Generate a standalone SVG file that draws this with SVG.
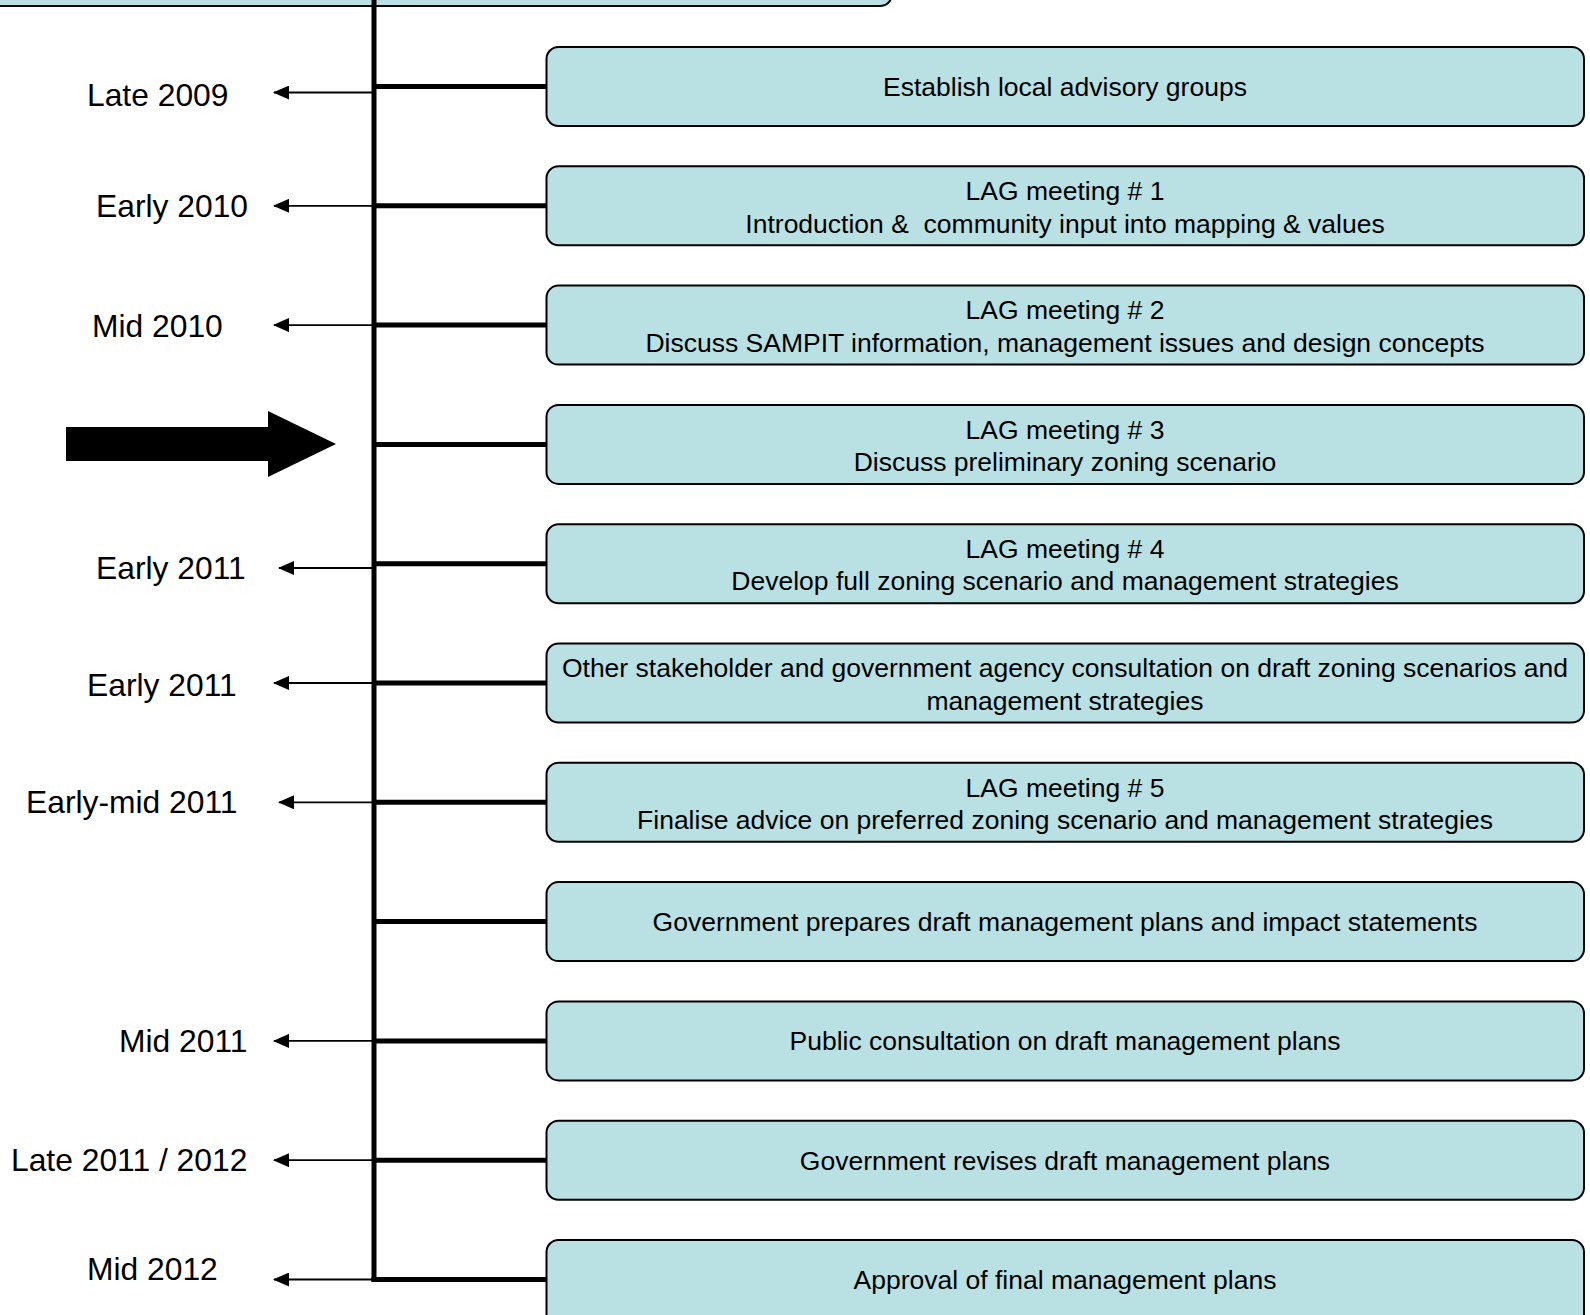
<svg xmlns="http://www.w3.org/2000/svg" width="1590" height="1315" viewBox="0 0 1590 1315">
<defs>
<style>
.box{fill:#b9e0e3;stroke:#000;stroke-width:2}
.bt{font-family:"Liberation Sans",Arial,sans-serif;font-size:26.5px;fill:#000;text-anchor:middle}
.lb{font-family:"Liberation Sans",Arial,sans-serif;font-size:31.8px;fill:#000}
.thick{stroke:#000;stroke-width:5;fill:none}
.thin{stroke:#000;stroke-width:1.8;fill:none;marker-end:url(#ah)}
</style>
<marker id="ah" markerWidth="16" markerHeight="14" refX="15" refY="7" orient="auto" markerUnits="userSpaceOnUse">
<path d="M0,0 L16,7 L0,14 Z" fill="#000"/>
</marker>
</defs>
<rect width="1590" height="1315" fill="#fff"/>
<g id="top-box"><rect class="box" x="-20" y="-80" width="912" height="86" rx="12"/></g>
<g id="connectors">
<line class="thick" x1="374" y1="0" x2="374" y2="1282"/>
<line class="thick" x1="372" y1="86.5" x2="547" y2="86.5"/>
<line class="thick" x1="372" y1="205.8" x2="547" y2="205.8"/>
<line class="thick" x1="372" y1="325.1" x2="547" y2="325.1"/>
<line class="thick" x1="372" y1="444.4" x2="547" y2="444.4"/>
<line class="thick" x1="372" y1="563.7" x2="547" y2="563.7"/>
<line class="thick" x1="372" y1="683" x2="547" y2="683"/>
<line class="thick" x1="372" y1="802.3" x2="547" y2="802.3"/>
<line class="thick" x1="372" y1="921.6" x2="547" y2="921.6"/>
<line class="thick" x1="372" y1="1040.9" x2="547" y2="1040.9"/>
<line class="thick" x1="372" y1="1160.2" x2="547" y2="1160.2"/>
<line class="thick" x1="371.5" y1="1279.5" x2="547" y2="1279.5"/>
<line class="thin" x1="372" y1="92.5" x2="274" y2="92.5"/>
<line class="thin" x1="372" y1="205.8" x2="274" y2="205.8"/>
<line class="thin" x1="372" y1="325.1" x2="274" y2="325.1"/>
<line class="thin" x1="372" y1="568" x2="279" y2="568"/>
<line class="thin" x1="372" y1="683" x2="274" y2="683"/>
<line class="thin" x1="372" y1="802.3" x2="279" y2="802.3"/>
<line class="thin" x1="372" y1="1040.9" x2="274" y2="1040.9"/>
<line class="thin" x1="372" y1="1160.2" x2="274" y2="1160.2"/>
<line class="thin" x1="372" y1="1279.5" x2="274" y2="1279.5"/>
</g>
<g id="current-arrow"><path d="M66,427 L268,427 L268,411 L336,444 L268,477 L268,461 L66,461 Z" fill="#000"/></g>
<g id="labels">
<text class="lb" x="87" y="105.5">Late 2009</text>
<text class="lb" x="96" y="217">Early 2010</text>
<text class="lb" x="92" y="337">Mid 2010</text>
<text class="lb" x="96" y="579">Early 2011</text>
<text class="lb" x="87" y="696">Early 2011</text>
<text class="lb" x="26" y="813">Early-mid 2011</text>
<text class="lb" x="119" y="1052">Mid 2011</text>
<text class="lb" x="11" y="1171">Late 2011 / 2012</text>
<text class="lb" x="87" y="1280">Mid 2012</text>
</g>
<g id="n1"><rect class="box" x="546.5" y="47" width="1037.5" height="79" rx="12"/><text class="bt" x="1065" y="96">Establish local advisory groups</text></g>
<g id="n2"><rect class="box" x="546.5" y="166.3" width="1037.5" height="79" rx="12"/><text class="bt" x="1065" y="200">LAG meeting # 1</text><text class="bt" x="1065" y="232.5">Introduction &amp;&#160; community input into mapping &amp; values</text></g>
<g id="n3"><rect class="box" x="546.5" y="285.6" width="1037.5" height="79" rx="12"/><text class="bt" x="1065" y="319.3">LAG meeting # 2</text><text class="bt" x="1065" y="351.8">Discuss SAMPIT information, management issues and design concepts</text></g>
<g id="n4"><rect class="box" x="546.5" y="404.9" width="1037.5" height="79" rx="12"/><text class="bt" x="1065" y="438.6">LAG meeting # 3</text><text class="bt" x="1065" y="471.1">Discuss preliminary zoning scenario</text></g>
<g id="n5"><rect class="box" x="546.5" y="524.2" width="1037.5" height="79" rx="12"/><text class="bt" x="1065" y="557.9">LAG meeting # 4</text><text class="bt" x="1065" y="590.4">Develop full zoning scenario and management strategies</text></g>
<g id="n6"><rect class="box" x="546.5" y="643.5" width="1037.5" height="79" rx="12"/><text class="bt" x="1065" y="677.2">Other stakeholder and government agency consultation on draft zoning scenarios and</text><text class="bt" x="1065" y="709.7">management strategies</text></g>
<g id="n7"><rect class="box" x="546.5" y="762.8" width="1037.5" height="79" rx="12"/><text class="bt" x="1065" y="796.5">LAG meeting # 5</text><text class="bt" x="1065" y="829">Finalise advice on preferred zoning scenario and management strategies</text></g>
<g id="n8"><rect class="box" x="546.5" y="882.1" width="1037.5" height="79" rx="12"/><text class="bt" x="1065" y="931">Government prepares draft management plans and impact statements</text></g>
<g id="n9"><rect class="box" x="546.5" y="1001.4" width="1037.5" height="79" rx="12"/><text class="bt" x="1065" y="1050.3">Public consultation on draft management plans</text></g>
<g id="n10"><rect class="box" x="546.5" y="1120.7" width="1037.5" height="79" rx="12"/><text class="bt" x="1065" y="1169.6">Government revises draft management plans</text></g>
<g id="n11"><rect class="box" x="546.5" y="1240" width="1037.5" height="90" rx="12"/><text class="bt" x="1065" y="1289">Approval of final management plans</text></g>
</svg>
